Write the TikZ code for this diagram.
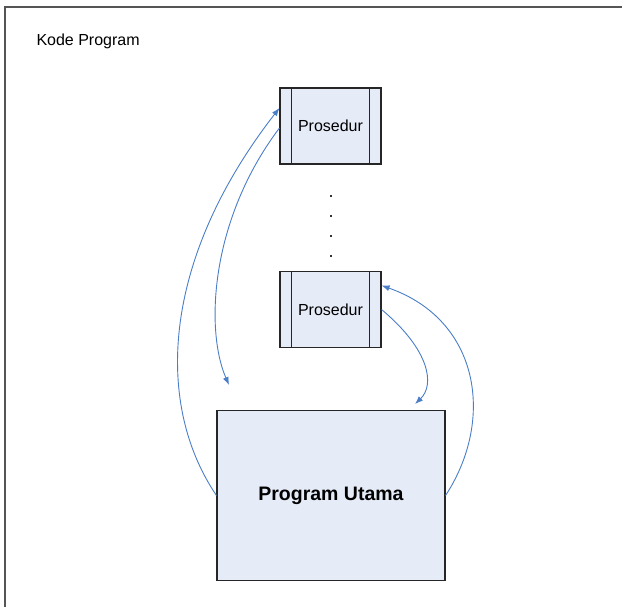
\documentclass[tikz,border=0pt]{standalone}
\usepackage{fontspec}
\setmainfont{Liberation Sans}
\usetikzlibrary{arrows.meta}
\definecolor{boxfill}{HTML}{E6ECF7}
\definecolor{arrowblue}{HTML}{4A7EC7}
\definecolor{framegray}{HTML}{555555}
\begin{document}
\begin{tikzpicture}[x=1pt,y=-1pt,
  procbox/.style={draw=black!85,fill=boxfill,line width=1.1pt,minimum width=101pt,minimum height=76pt,inner sep=0pt,font=\fontsize{16}{18}\selectfont},
  mainbox/.style={draw=black!85,fill=boxfill,line width=1.1pt,minimum width=228pt,minimum height=170pt,inner sep=0pt,font=\fontsize{19.5}{22}\selectfont\bfseries},
  conn/.style={draw=arrowblue,line width=0.9pt},
  arr/.style={conn,-{Latex[length=8pt,width=6pt]}},
  dotmark/.style={fill=black!80,minimum size=2pt,inner sep=0pt}]
\useasboundingbox (0,0) rectangle (622,607);
\draw[framegray,line width=1.4pt] (5,607) -- (5,7) -- (622,7);
\node[anchor=west,font=\fontsize{16}{18}\selectfont] (title) at (33,41) {Kode Program};
\node[procbox] (p1) at (330.5,126) {Prosedur};
\node[procbox] (p2) at (330.5,309.5) {Prosedur};
\draw[black!85,line width=1.1pt] ([xshift=12pt]p1.north west) -- ([xshift=12pt]p1.south west)
  ([xshift=-12pt]p1.north east) -- ([xshift=-12pt]p1.south east);
\draw[black!85,line width=1.1pt] ([xshift=12pt]p2.north west) -- ([xshift=12pt]p2.south west)
  ([xshift=-12pt]p2.north east) -- ([xshift=-12pt]p2.south east);
\node[mainbox] (m) at (331,495.5) {Program Utama};
\node[dotmark] (d1) at (331,196) {};
\node[dotmark] (d2) at (331,216) {};
\node[dotmark] (d3) at (331,236) {};
\node[dotmark] (d4) at (331,256) {};
\coordinate (e2) at (229,385);
\coordinate (e3) at (415,404);
% main -> p1
\draw[arr] (m.west) .. controls (152,400) and (165,255) .. ([yshift=18pt]p1.west);
% p1 -> main (arrow ends in space)
\draw[arr] ([yshift=-2pt]p1.west) .. controls (210,220) and (205,330) .. (e2);
% p2 -> main
\draw[arr] (p2.east) .. controls (430,350) and (435,385) .. (e3);
% main -> p2
\draw[arr] (m.east) .. controls (495,420) and (480,320) .. ([yshift=24pt]p2.east);
\end{tikzpicture}
\end{document}
